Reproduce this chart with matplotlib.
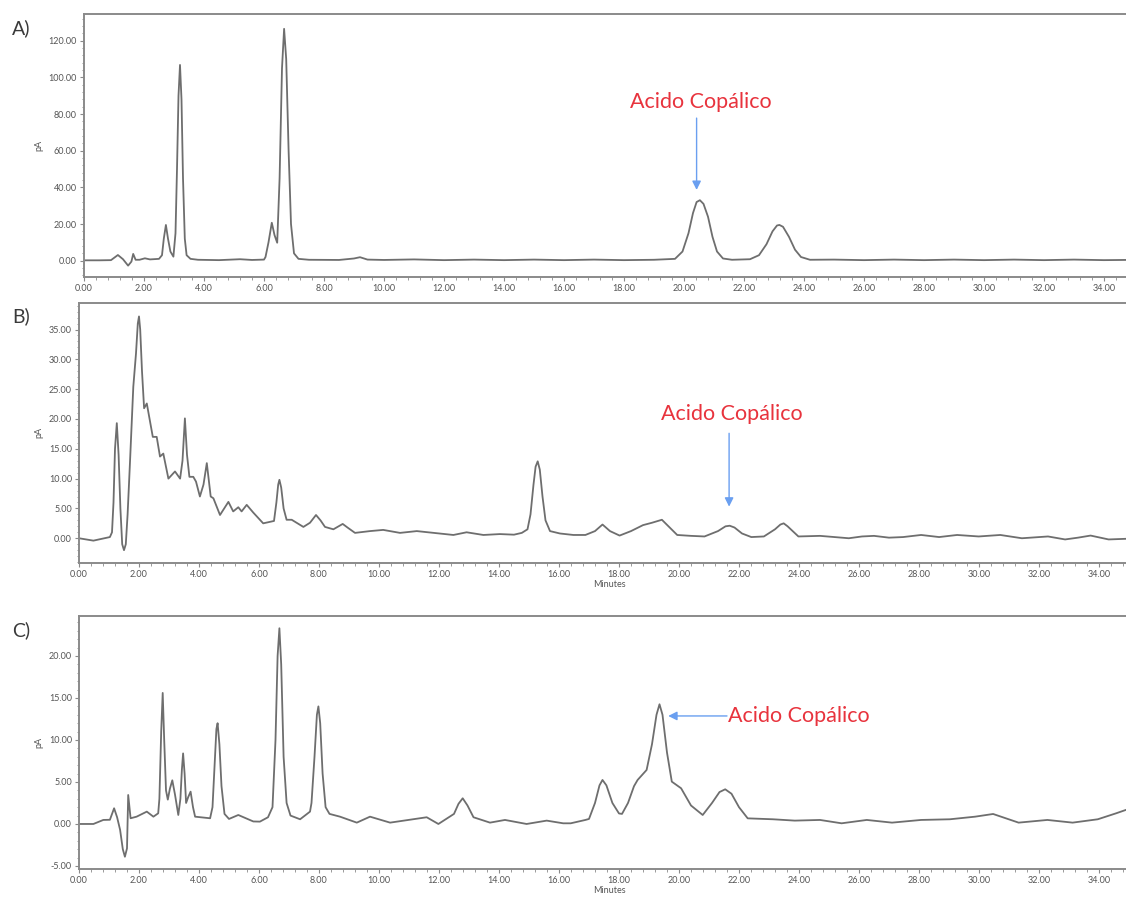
import matplotlib
matplotlib.use('Agg')
import matplotlib.pyplot as plt
from matplotlib.ticker import MultipleLocator, FormatStrFormatter, AutoMinorLocator

plt.rcParams['font.family'] = ['Lato', 'DejaVu Sans']

# chromatogram A: time (min), signal (pA)
time_a = [0.0, 0.5, 0.9, 1.13, 1.3, 1.47, 1.58, 1.64, 1.72, 1.85, 2.03, 2.2, 2.5, 2.6,
          2.66, 2.73, 2.8, 2.88, 2.98, 3.05, 3.1, 3.15, 3.2, 3.25, 3.3, 3.36, 3.42, 3.55,
          3.8, 4.5, 5.2, 5.6, 6.0, 6.05, 6.15, 6.26, 6.35, 6.44, 6.52, 6.6, 6.67, 6.74,
          6.82, 6.9, 7.0, 7.15, 7.5, 8.5, 9.0, 9.2, 9.45, 10.0, 11.0, 12.0, 13.0, 14.0,
          15.0, 16.0, 17.0, 18.0, 19.0, 19.7, 19.95, 20.15, 20.3, 20.42, 20.53, 20.65,
          20.8, 20.95, 21.1, 21.3, 21.6, 22.2, 22.5, 22.75, 22.95, 23.1, 23.18, 23.3,
          23.5, 23.7, 23.9, 24.2, 25.0, 26.0, 27.0, 28.0, 29.0, 30.0, 31.0, 32.0, 33.0,
          34.0, 35.3]
signal_a = [0.2, 0.2, 0.3, 3.1, 0.8, -2.7, -0.5, 3.7, 0.5, 0.5, 1.3, 0.7, 1.0, 3.0,
            12.0, 19.5, 12.0, 5.0, 2.2, 15.0, 50.0, 90.0, 106.8, 88.0, 45.0, 12.0, 3.0, 1.0,
            0.5, 0.3, 0.8, 0.4, 0.6, 2.0, 10.0, 20.7, 14.0, 9.8, 45.0, 105.0, 126.5, 110.0,
            60.0, 20.0, 4.0, 1.0, 0.5, 0.4, 1.2, 1.9, 0.6, 0.4, 0.7, 0.3, 0.6, 0.3,
            0.6, 0.3, 0.6, 0.3, 0.5, 1.0, 5.0, 15.0, 26.0, 32.0, 33.0, 31.0,
            24.0, 13.0, 5.0, 1.2, 0.5, 0.8, 3.0, 9.0, 16.0, 19.2, 19.5, 18.5,
            13.0, 6.0, 2.0, 0.5, 0.6, 0.3, 0.6, 0.3, 0.6, 0.3, 0.6, 0.3, 0.6,
            0.3, 0.5]

# chromatogram B
time_b = [0.0, 0.48, 1.03, 1.1, 1.15, 1.2, 1.26, 1.32, 1.38, 1.44, 1.5, 1.56, 1.62, 1.7,
          1.81, 1.9, 1.96, 2.0, 2.04, 2.1, 2.17, 2.26, 2.46, 2.59, 2.7, 2.81, 2.98, 3.2,
          3.37, 3.45, 3.53, 3.6, 3.68, 3.81, 3.9, 4.03, 4.15, 4.26, 4.39, 4.48, 4.7, 4.98,
          5.14, 5.31, 5.42, 5.59, 5.81, 6.14, 6.5, 6.58, 6.64, 6.68, 6.74, 6.82, 6.92,
          7.09, 7.48, 7.7, 7.9, 8.05, 8.2, 8.48, 8.65, 8.79, 8.95, 9.2, 9.7, 10.14, 10.7,
          11.26, 11.81, 12.48, 12.92, 13.48, 14.03, 14.5, 14.76, 14.95, 15.05, 15.15,
          15.22, 15.29, 15.36, 15.45, 15.55, 15.7, 16.03, 16.48, 16.88, 17.2, 17.45,
          17.7, 18.02, 18.4, 18.8, 19.1, 19.3, 19.43, 19.65, 19.94, 20.4, 20.85, 21.3,
          21.55, 21.69, 21.85, 22.1, 22.41, 22.83, 23.2, 23.38, 23.49, 23.62, 23.98,
          24.7, 25.2, 25.66, 26.1, 26.5, 27.0, 27.47, 28.07, 28.67, 29.27, 29.99, 30.71,
          31.43, 32.3, 32.87, 33.3, 33.72, 34.32, 35.4]
signal_b = [0.0, -0.4, 0.2, 1.0, 6.0, 15.0, 19.3, 14.0, 5.0, -1.0, -2.0, -1.0, 4.0, 12.8,
            25.4, 31.0, 36.0, 37.2, 35.0, 28.0, 21.8, 22.6, 17.0, 17.0, 13.7, 14.2, 10.0, 11.2,
            10.0, 13.0, 20.1, 14.0, 10.3, 10.3, 9.5, 7.0, 9.0, 12.6, 7.0, 6.7, 3.9, 6.1,
            4.5, 5.2, 4.5, 5.6, 4.3, 2.5, 2.9, 6.0, 9.0, 9.8, 8.5, 5.0, 3.1,
            3.1, 1.9, 2.6, 3.9, 3.0, 1.9, 1.5, 2.0, 2.4, 1.8, 0.9, 1.2, 1.4, 0.9,
            1.2, 0.9, 0.55, 1.0, 0.55, 0.7, 0.6, 0.9, 1.5, 4.0, 9.0,
            12.0, 12.9, 11.5, 7.0, 3.0, 1.2, 0.8, 0.55, 0.55, 1.2, 2.3,
            1.2, 0.45, 1.2, 2.2, 2.6, 2.9, 3.1, 2.0, 0.55, 0.4, 0.3, 1.2,
            2.0, 2.1, 1.8, 0.8, 0.2, 0.3, 1.5, 2.3, 2.5, 2.0, 0.3,
            0.4, 0.2, 0.0, 0.3, 0.4, 0.1, 0.2, 0.55, 0.2, 0.55, 0.3, 0.55,
            0.0, 0.3, -0.2, 0.1, 0.45, -0.2, 0.0]

# chromatogram C
time_c = [0.0, 0.48, 0.81, 1.03, 1.17, 1.27, 1.37, 1.46, 1.53, 1.6, 1.64, 1.72, 1.92,
          2.26, 2.48, 2.64, 2.68, 2.74, 2.79, 2.84, 2.9, 2.96, 3.03, 3.11, 3.2, 3.31,
          3.38, 3.43, 3.47, 3.52, 3.57, 3.64, 3.72, 3.8, 3.87, 4.37, 4.45, 4.52, 4.58,
          4.62, 4.68, 4.75, 4.85, 5.0, 5.31, 5.81, 6.03, 6.3, 6.45, 6.55, 6.62, 6.68,
          6.74, 6.82, 6.92, 7.05, 7.37, 7.7, 7.75, 7.85, 7.93, 7.98, 8.04, 8.12, 8.22,
          8.35, 8.7, 9.26, 9.7, 10.37, 11.14, 11.59, 11.98, 12.5, 12.65, 12.79, 12.95,
          13.15, 13.7, 14.2, 14.92, 15.59, 16.14, 16.39, 16.88, 17.0, 17.2, 17.35,
          17.45, 17.58, 17.78, 18.0, 18.1, 18.3, 18.5, 18.62, 18.92, 19.1, 19.25,
          19.35, 19.45, 19.6, 19.76, 20.07, 20.4, 20.79, 21.1, 21.35, 21.54, 21.75,
          22.0, 22.29, 23.13, 23.86, 24.7, 25.42, 26.26, 27.1, 28.07, 29.03, 29.87,
          30.47, 31.32, 32.28, 33.12, 33.96, 34.57, 35.4]
signal_c = [0.0, 0.0, 0.48, 0.5, 1.87, 0.8, -0.7, -3.0, -3.9, -2.9, 3.45, 0.68, 0.87,
            1.47, 0.87, 1.27, 3.0, 11.0, 15.6, 10.0, 4.0, 2.9, 4.2, 5.2, 3.5, 1.07,
            3.0, 6.5, 8.4, 6.0, 2.5, 3.2, 3.85, 2.0, 0.87, 0.68, 2.0, 7.0, 11.3,
            12.0, 9.5, 4.5, 1.2, 0.6, 1.07, 0.3, 0.28, 0.8, 2.0, 10.0, 20.0, 23.3,
            19.0, 8.0, 2.5, 1.0, 0.56, 1.47, 2.5, 8.0, 13.0, 14.0, 12.0, 6.0, 2.0,
            1.2, 0.87, 0.16, 0.87, 0.16, 0.56, 0.8, 0.0, 1.2, 2.4, 3.06, 2.2,
            0.8, 0.16, 0.48, 0.0, 0.4, 0.08, 0.08, 0.48, 0.6, 2.5, 4.6,
            5.24, 4.6, 2.5, 1.25, 1.2, 2.5, 4.5, 5.24, 6.43, 9.5, 13.0,
            14.25, 13.0, 8.5, 5.04, 4.25, 2.2, 1.07, 2.5, 3.8, 4.13, 3.6,
            2.0, 0.67, 0.56, 0.4, 0.48, 0.08, 0.48, 0.16, 0.48, 0.56, 0.87,
            1.19, 0.16, 0.48, 0.16, 0.56, 1.27, 2.3]

panel_names = ['A)', 'B)', 'C)']
y_limits = [(-8.9, 134.6), (-4.1, 39.5), (-5.36, 24.76)]
y_steps = [20, 5, 5]
label_text = 'Acido Copálico'

line_col = '#6e6e6e'
axis_col = '#8a8a8a'
tick_col = '#555555'
red = '#e8333d'
blue = '#6a9ff0'

fig = plt.figure(figsize=(11.26, 8.99), dpi=100)
W, H = 1126.0, 899.0

# left, top, bottom in pixels
boxes = [(84, 14, 277), (79, 302.7, 562.7), (79, 616, 869)]
data = [(time_a, signal_a), (time_b, signal_b), (time_c, signal_c)]

axes = []
for i, (left, top, bottom) in enumerate(boxes):
    ax = fig.add_axes([left / W, 1 - bottom / H, (1140 - left) / W, (bottom - top) / H])
    t, s = data[i]
    ax.plot(t, s, color=line_col, lw=1.3)
    ax.set_xlim(0, (1140 - left) / 30.0)
    ax.set_ylim(*y_limits[i])
    ax.xaxis.set_major_locator(MultipleLocator(2))
    ax.xaxis.set_minor_locator(MultipleLocator(0.4))
    ax.xaxis.set_major_formatter(FormatStrFormatter('%.2f'))
    ax.yaxis.set_major_locator(MultipleLocator(y_steps[i]))
    ax.yaxis.set_minor_locator(AutoMinorLocator(5))
    ax.yaxis.set_major_formatter(FormatStrFormatter('%.2f'))
    for sp in ['top', 'bottom', 'left']:
        ax.spines[sp].set_color(axis_col)
        ax.spines[sp].set_linewidth(1.4)
    ax.spines['right'].set_visible(False)
    ax.tick_params(which='major', length=3, width=0.8, color=axis_col,
                   labelsize=6.5, labelcolor=tick_col, pad=2)
    ax.tick_params(which='minor', length=1.8, width=0.6, color=axis_col)
    ax.set_ylabel('pA', fontsize=6.5, color=tick_col, labelpad=4)
    fig.text(12 / W, 1 - (top + 14) / H, panel_names[i], fontsize=14,
             color='#3a3a3a', ha='left', va='center')
    axes.append(ax)

axes[1].set_xlabel('Minutes', fontsize=6.5, color=tick_col, labelpad=1)
axes[2].set_xlabel('Minutes', fontsize=6.5, color=tick_col, labelpad=1)

arrow = dict(arrowstyle='-|>', color=blue, lw=1.0, mutation_scale=13, shrinkA=0, shrinkB=0)

axes[0].annotate('', xy=(20.42, 38.6), xytext=(20.42, 77.8), arrowprops=arrow)
axes[0].text(20.57, 86.6, label_text, color=red, fontsize=15.5, ha='center', va='center')

axes[1].annotate('', xy=(21.67, 5.3), xytext=(21.67, 17.6), arrowprops=arrow)
axes[1].text(21.75, 20.9, label_text, color=red, fontsize=15.5, ha='center', va='center')

axes[2].annotate('', xy=(19.64, 12.86), xytext=(21.6, 12.86), arrowprops=arrow)
axes[2].text(21.62, 12.86, label_text, color=red, fontsize=15.5, ha='left', va='center')

fig.savefig('out.png', dpi=100, facecolor='white')
